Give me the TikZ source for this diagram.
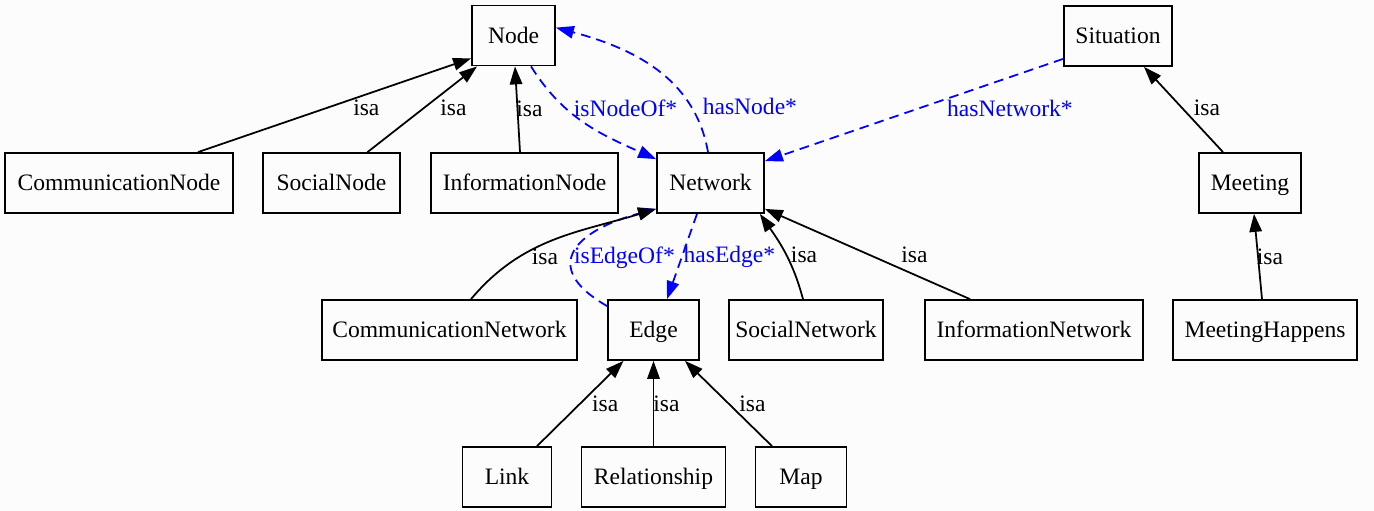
\documentclass[tikz,border=0pt]{standalone}
\usepackage{fontspec}
\setmainfont{Liberation Serif}
\usetikzlibrary{arrows.meta}
\definecolor{bgcol}{RGB}{252,252,252}
\tikzset{
  cls/.style={draw, line width=1pt, minimum height=1.2cm, inner sep=0pt, text height=9pt, text depth=0pt,
    font=\fontsize{13.4}{15}\selectfont},
  isa/.style={draw, line width=1pt, -{Triangle[length=.36cm,width=.25cm]}},
  rel/.style={draw=blue, line width=1pt, dash pattern=on 5.5pt off 3.5pt, -{Triangle[length=.36cm,width=.25cm]}},
  lbl/.style={font=\fontsize{13.4}{15}\selectfont, inner sep=1pt},
  rlbl/.style={lbl, text=blue},
}

\begin{document}
\begin{tikzpicture}
    \fill[bgcol] (0,0) rectangle (27.48,-10.22);
    \foreach \n/\x/\y/\w in {Node/10.27/-.71/1.66, Situation/22.36/-.72/2.16,
        CommunicationNode/2.38/-3.66/4.56, SocialNode/6.63/-3.66/2.74,
        InformationNode/10.49/-3.66/3.74, Network/14.21/-3.66/2.14, Meeting/25.0/-3.66/2.04,
        CommunicationNetwork/8.99/-6.6/5.10, Edge/13.07/-6.6/1.82, SocialNetwork/16.12/-6.6/3.08,
        InformationNetwork/20.68/-6.6/4.36, MeetingHappens/25.3/-6.6/3.68,
        Link/10.14/-9.54/1.78, Relationship/13.07/-9.54/2.88, Map/16.02/-9.54/1.82}{
        \node[cls, minimum width=\w cm] (\n) at (\x,\y) {\n};
    }
    \draw[rel] ([xshift=.35cm]Node.south) to[out=-58,in=156]
        node[rlbl, pos=.34, anchor=west, xshift=.1cm]{isNodeOf*} ([yshift=-.14cm]Network.north west);
    \draw[rel] ([xshift=-.05cm]Network.north) to[out=100,in=-15]
        node[rlbl, pos=.23, anchor=west, xshift=.18cm]{hasNode*} ([yshift=-.46cm]Node.north east);
    \draw[rel] ([yshift=.16cm]Situation.south west) --
        node[rlbl, pos=.48, xshift=1.8cm]{hasNetwork*} ([yshift=-.18cm]Network.north east);
    \draw[rel] ([yshift=-.14cm]Edge.north west) to[out=150,in=-165,looseness=1.9]
        node[rlbl, pos=.43, anchor=west, xshift=-.02cm]{isEdgeOf*} ([yshift=.1cm]Network.south west);
    \draw[rel] ([xshift=-.27cm]Network.south) --
        node[rlbl, pos=.5, anchor=west, xshift=-.02cm]{hasEdge*} ([xshift=.27cm]Edge.north);
    \draw[isa] ([xshift=1.58cm]CommunicationNode.north) --
        node[lbl, pos=.47, xshift=.8cm]{isa} ([yshift=.16cm]Node.south west);
    \draw[isa] ([xshift=.72cm]SocialNode.north) --
        node[lbl, pos=.52, xshift=.58cm]{isa} ([xshift=.12cm]Node.south west);
    \draw[isa] ([xshift=-.09cm]InformationNode.north) --
        node[lbl, pos=.5, xshift=.24cm]{isa} ([xshift=.03cm]Node.south);
    \draw[isa] ([xshift=-.54cm]Meeting.north) --
        node[lbl, pos=.52, xshift=.5cm]{isa} ([xshift=.52cm]Situation.south);
    \draw[isa] ([xshift=-.06cm]MeetingHappens.north) --
        node[lbl, pos=.5, xshift=.24cm]{isa} ([xshift=.08cm]Meeting.south);
    \draw[isa] ([xshift=.43cm]CommunicationNetwork.north) to[out=50,in=-163]
        node[lbl, pos=.3, anchor=west, xshift=.2cm]{isa} ([yshift=.1cm]Network.south west);
    \draw[isa] ([xshift=-.06cm]SocialNetwork.north) to[out=105,in=-55]
        node[lbl, pos=.5, anchor=west, xshift=.05cm]{isa} ([xshift=-.1cm]Network.south east);
    \draw[isa] ([xshift=-1.28cm]InformationNetwork.north) --
        node[lbl, pos=.49, xshift=.9cm]{isa} ([yshift=.1cm]Network.south east);
    \draw[isa] ([xshift=.6cm]Link.north) --
        node[lbl, pos=.5, xshift=.5cm]{isa} ([xshift=-.6cm]Edge.south);
    \draw[isa] (Relationship) --
        node[lbl, pos=.5, xshift=.26cm]{isa} (Edge);
    \draw[isa] ([xshift=-.58cm]Map.north) --
        node[lbl, pos=.5, xshift=.48cm]{isa} ([xshift=.63cm]Edge.south);
\end{tikzpicture}
\end{document}
